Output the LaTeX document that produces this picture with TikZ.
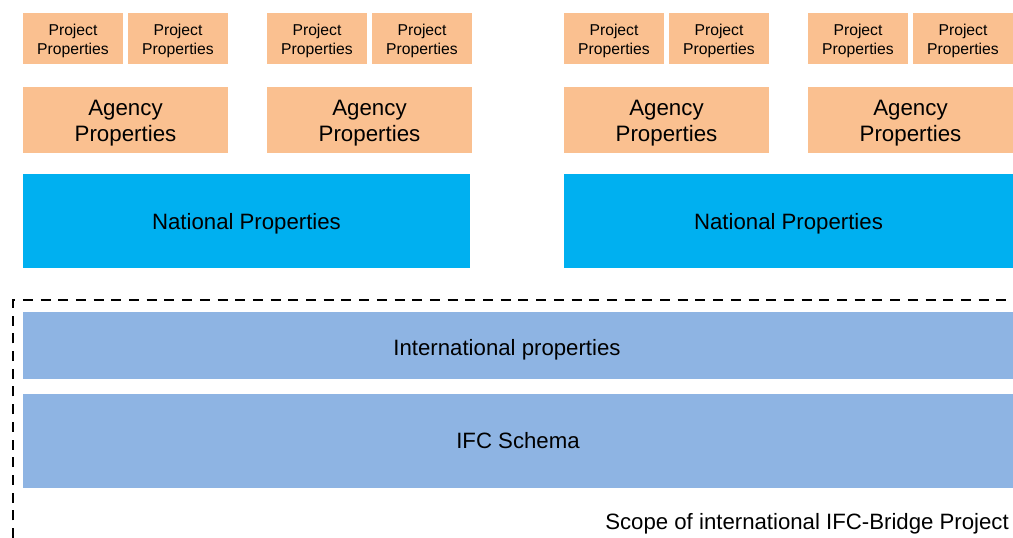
\documentclass[tikz,border=0pt]{standalone}
\usepackage{fontspec}
\setmainfont{Liberation Sans}
\usetikzlibrary{positioning}
\definecolor{projorange}{HTML}{FAC090}
\definecolor{natblue}{HTML}{00B0F0}
\definecolor{intblue}{HTML}{8EB4E3}

\begin{document}
\begin{tikzpicture}[x=1pt, y=-1pt, node distance=5pt,
    textdrop/.style={execute at begin node={\rule{0pt}{\dimexpr .72em+#1*2\relax}}},
    textdrop/.default=3pt,
    textdroptwo/.style={execute at begin node={\rule{0pt}{\dimexpr .72em+\baselineskip+#1*2\relax}}},
    textdroptwo/.default=3pt,
    box/.style={inner sep=0pt, outer sep=0pt, align=center, anchor=north west},
    project/.style={box, textdroptwo, fill=projorange, minimum width=100pt, minimum height=50.7pt, font=\fontsize{15.7}{19}\selectfont},
    agency/.style={box, textdroptwo, fill=projorange, minimum width=205pt, minimum height=65.7pt, font=\fontsize{22.3}{26}\selectfont},
    national/.style={box, textdrop, fill=natblue, minimum width=447pt, minimum height=93.7pt, font=\fontsize{22.2}{26}\selectfont},
    intl/.style={box, fill=intblue, minimum width=990pt, font=\fontsize{22.2}{26}\selectfont},
    scopeline/.style={line width=2.5pt, dash pattern=on 10pt off 7.7pt}]
  \useasboundingbox (0,0) rectangle (1013,538);

  % project row
  \node[project]                 (pA1) at (23,13)  {Project\\Properties};
  \node[project, right=5pt of pA1] (pA2)           {Project\\Properties};
  \node[project]                 (pB1) at (267,13) {Project\\Properties};
  \node[project, right=5pt of pB1] (pB2)           {Project\\Properties};
  \node[project]                 (pC1) at (564,13) {Project\\Properties};
  \node[project, right=5pt of pC1] (pC2)           {Project\\Properties};
  \node[project]                 (pD1) at (808,13) {Project\\Properties};
  \node[project, right=5pt of pD1] (pD2)           {Project\\Properties};

  % agency row
  \node[agency] (aA) at (23,87)  {Agency\\Properties};
  \node[agency] (aB) at (267,87) {Agency\\Properties};
  \node[agency] (aC) at (564,87) {Agency\\Properties};
  \node[agency] (aD) at (808,87) {Agency\\Properties};

  % national row
  \node[national]                    (nL) at (23,174)  {National Properties};
  \node[national, minimum width=449pt] (nR) at (564,174) {National Properties};

  % international scope
  \node[intl, textdrop=4pt, minimum height=66.7pt] (intl) at (23,312) {International properties\hspace*{22pt}};
  \node[intl, minimum height=93.7pt]               (ifc)  at (23,394) {IFC Schema};

  \draw[scopeline] (13,538) -- (13,300) -- (1013,300);
  \node[anchor=base east, inner sep=0pt, font=\fontsize{22.2}{26}\selectfont] (scope) at (1009,529)
    {Scope of international IFC-Bridge Project};
\end{tikzpicture}
\end{document}
